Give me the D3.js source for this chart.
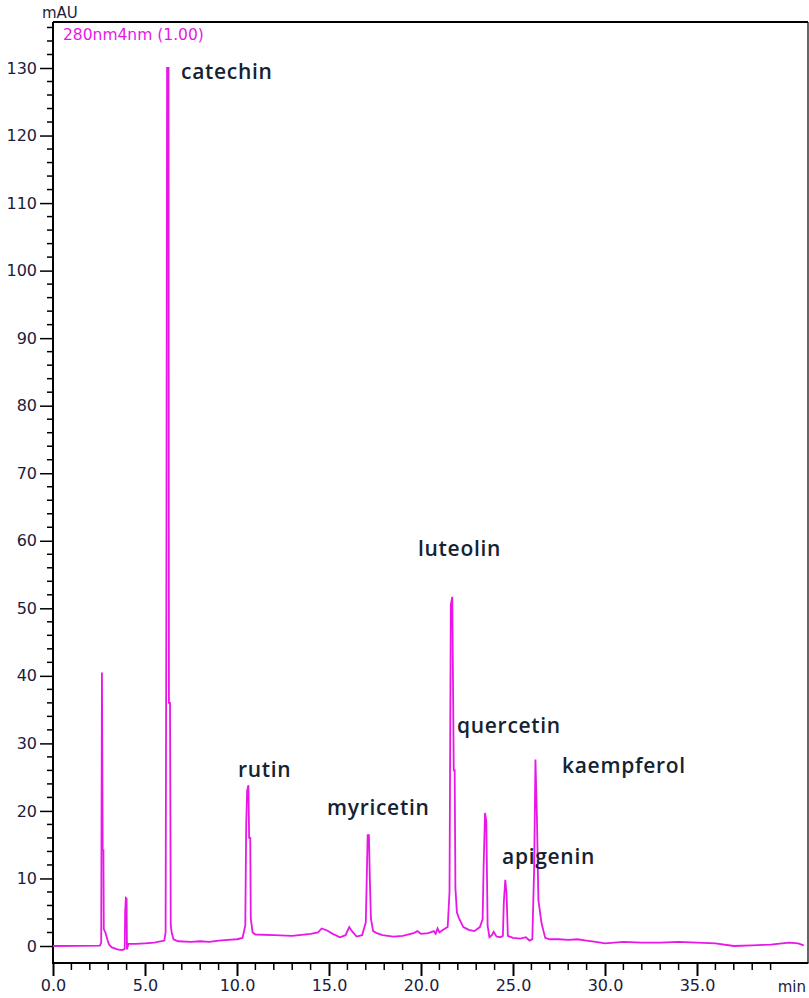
<!DOCTYPE html>
<html>
<head>
<meta charset="utf-8">
<script src="https://cdn.jsdelivr.net/npm/d3@7/dist/d3.min.js"></script>
<style>
  html, body { margin: 0; padding: 0; background: #ffffff; }
  svg { display: block; }
</style>
</head>
<body>
<div id="chart"></div>
<script>
// ---------------- DATA ----------------
const channelLabel = "280nm4nm (1.00)";
const yUnit = "mAU";
const xUnit = "min";
const yTickValues = [0, 10, 20, 30, 40, 50, 60, 70, 80, 90, 100, 110, 120, 130];
const xTickValues = [0, 5, 10, 15, 20, 25, 30, 35];

// retention time (min)
const timeMin = [
  0.0, 2.55, 2.62, 2.66, 2.70, 2.74, 2.76, 2.85, 2.95, 3.05, 3.2, 3.5, 3.75, 3.85, 3.90,
  3.92, 3.96, 4.00, 4.02, 4.1, 4.5, 5.0, 5.5, 6.05, 6.12, 6.16, 6.20, 6.28, 6.30, 6.36,
  6.40, 6.45, 6.55, 6.8, 7.5, 8.0, 8.5, 9.0, 9.5, 10.0, 10.3, 10.45, 10.50, 10.55, 10.62,
  10.66, 10.72, 10.75, 10.85, 11.0, 12.0, 13.0, 14.0, 14.4, 14.6, 14.9, 15.2, 15.6, 15.9, 16.1,
  16.25, 16.5, 16.8, 17.0, 17.05, 17.10, 17.17, 17.22, 17.28, 17.4, 17.6, 17.9, 18.5, 19.0, 19.6,
  19.8, 20.0, 20.4, 20.7, 20.8, 20.9, 21.0, 21.2, 21.45, 21.55, 21.62, 21.70, 21.78, 21.83, 21.87,
  21.95, 22.05, 22.3, 22.6, 22.9, 23.2, 23.35, 23.40, 23.48, 23.55, 23.62, 23.72, 23.85, 23.95, 24.1,
  24.3, 24.45, 24.50, 24.58, 24.65, 24.72, 25.0, 25.4, 25.7, 25.9, 26.05, 26.15, 26.22, 26.30, 26.38,
  26.55, 26.75, 27.0, 27.5, 28.0, 28.5, 29.0, 29.5, 30.0, 31.0, 32.0, 33.0, 34.0, 35.0, 36.0,
  37.0, 38.0, 39.0, 40.0, 40.5, 40.8
];
// absorbance (mAU)
const absorbance = [
  0.0, 0.05, 0.5, 40.5, 14.3, 14.2, 2.5, 2.0, 1.0, 0.2, -0.2, -0.5, -0.6, -0.5, -0.4,
  5.0, 7.1, 7.0, -0.5, 0.3, 0.3, 0.4, 0.5, 0.8, 2.0, 51.0, 130.0, 130.0, 36.0, 36.0,
  3.0, 2.0, 1.0, 0.7, 0.6, 0.7, 0.6, 0.8, 0.9, 1.0, 1.2, 3.0, 18.0, 23.0, 23.8,
  16.0, 16.0, 4.0, 2.0, 1.7, 1.6, 1.5, 1.8, 2.0, 2.6, 2.3, 1.8, 1.3, 1.6, 2.8,
  2.2, 1.4, 1.6, 3.5, 9.8, 16.4, 16.4, 9.8, 4.0, 2.2, 1.9, 1.6, 1.4, 1.5, 1.9,
  2.2, 1.8, 1.9, 2.2, 1.8, 2.6, 2.0, 2.4, 2.8, 8.0, 50.5, 51.7, 26.0, 26.0, 8.6,
  5.0, 4.2, 2.8, 2.4, 2.2, 2.8, 4.0, 11.5, 19.7, 18.4, 3.0, 1.3, 1.6, 2.1, 1.4,
  1.3, 1.5, 6.4, 9.8, 7.8, 1.5, 1.2, 1.1, 1.3, 0.8, 1.0, 11.5, 27.6, 19.1, 6.8,
  3.4, 1.2, 1.0, 1.0, 0.9, 1.0, 0.8, 0.6, 0.4, 0.6, 0.5, 0.5, 0.6, 0.5, 0.4,
  0.0, 0.1, 0.2, 0.5, 0.4, 0.1
];

const peakNames = ["catechin", "rutin", "myricetin", "luteolin", "quercetin", "apigenin", "kaempferol"];

// ---------------- LAYOUT ----------------
const W = 809, H = 998;
const plotLeft = 53, plotRight = 807.4, plotTop = 22, plotBottom = 963;
// label anchor positions (pixels, left/baseline)
const labelPos = [[181, 79], [238, 777], [327, 815], [418, 556], [457, 733], [502, 864], [562, 773]];

const svg = d3.select("#chart").append("svg").attr("width", W).attr("height", H);

const x = d3.scaleLinear().domain([0, 41]).range([plotLeft, plotRight]);
const y = d3.scaleLinear().domain([0, 130]).range([946, 68]);

const textCol = "#1c1c3c";
const magenta = "#e817e8";

// frame: top and right edges
svg.append("line").attr("x1", plotLeft).attr("x2", plotRight + 0.6).attr("y1", plotTop).attr("y2", plotTop)
  .attr("stroke", "#000").attr("stroke-width", 2);
svg.append("line").attr("x1", plotRight + 0.6).attr("x2", plotRight + 0.6).attr("y1", plotTop).attr("y2", plotBottom)
  .attr("stroke", "#000").attr("stroke-width", 1.2);

// Y axis
const yMinor = d3.range(0, 137, 2).filter(v => v % 10 !== 0);
const yAxisG = svg.append("g").attr("transform", `translate(${plotLeft},0)`);
yAxisG.selectAll("line.minor").data(yMinor).enter().append("line")
  .attr("x1", -6).attr("x2", 0).attr("y1", d => y(d)).attr("y2", d => y(d))
  .attr("stroke", "#000").attr("stroke-width", 1.5);
const yAxis = d3.axisLeft(y).tickValues(yTickValues).tickSize(13).tickPadding(3).tickFormat(d3.format("d"));
yAxisG.call(yAxis);
yAxisG.select(".domain").remove();
yAxisG.selectAll(".tick line").attr("stroke", "#000").attr("stroke-width", 1.5);
yAxisG.selectAll(".tick text").attr("fill", textCol).attr("font-family", "DejaVu Sans").attr("font-size", 16);
svg.append("line").attr("x1", plotLeft).attr("x2", plotLeft).attr("y1", plotTop).attr("y2", plotBottom + 1)
  .attr("stroke", "#000").attr("stroke-width", 2);

// X axis
const xMinor = d3.range(1, 41, 1).filter(v => v % 5 !== 0);
const xAxisG = svg.append("g").attr("transform", `translate(0,${plotBottom})`);
xAxisG.selectAll("line.minor").data(xMinor).enter().append("line")
  .attr("x1", d => x(d)).attr("x2", d => x(d)).attr("y1", 0).attr("y2", 7)
  .attr("stroke", "#000").attr("stroke-width", 1.5);
const xAxis = d3.axisBottom(x).tickValues(xTickValues).tickSize(13).tickPadding(4).tickFormat(d3.format(".1f"));
xAxisG.call(xAxis);
xAxisG.select(".domain").remove();
xAxisG.selectAll(".tick line").attr("stroke", "#000").attr("stroke-width", 2);
xAxisG.selectAll(".tick text").attr("fill", textCol).attr("font-family", "DejaVu Sans").attr("font-size", 16);
svg.append("line").attr("x1", plotLeft - 1).attr("x2", plotRight + 1).attr("y1", plotBottom).attr("y2", plotBottom)
  .attr("stroke", "#000").attr("stroke-width", 2);

// units
svg.append("text").attr("x", 42).attr("y", 18).text(yUnit)
  .attr("fill", textCol).attr("font-family", "DejaVu Sans").attr("font-size", 15);
svg.append("text").attr("x", 806).attr("y", 992).attr("text-anchor", "end").text(xUnit)
  .attr("fill", textCol).attr("font-family", "DejaVu Sans").attr("font-size", 15);

// channel label
svg.append("text").attr("x", 63).attr("y", 40).text(channelLabel)
  .attr("fill", magenta).attr("font-family", "DejaVu Sans").attr("font-size", 15.5);

// trace
const pts = timeMin.map((t, i) => [t, absorbance[i]]);
const line = d3.line().x(d => x(d[0])).y(d => y(d[1]));
svg.append("path").datum(pts).attr("d", line)
  .attr("fill", "none").attr("stroke", magenta).attr("stroke-width", 1.8).attr("stroke-linejoin", "miter");

// peak labels
svg.selectAll("text.peak").data(peakNames).enter().append("text")
  .attr("class", "peak")
  .attr("x", (d, i) => labelPos[i][0]).attr("y", (d, i) => labelPos[i][1])
  .text(d => d)
  .attr("fill", "#152232").attr("font-family", "Open Sans").attr("font-weight", 600).attr("font-size", 21)
  .attr("letter-spacing", 0.7);
</script>
</body>
</html>
